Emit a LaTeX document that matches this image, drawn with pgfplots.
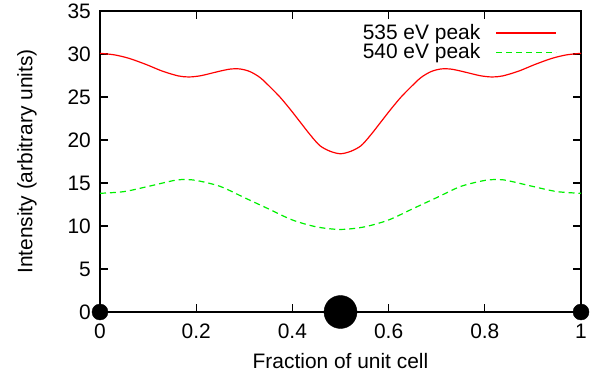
\documentclass[border=0pt]{standalone}
\usepackage{fontspec}
\setmainfont{Liberation Sans}
\usepackage{pgfplots}
\pgfplotsset{compat=1.18}
\definecolor{gred}{RGB}{255,0,0}
\definecolor{ggreen}{RGB}{0,240,0}
\newcommand{\bigf}{\fontsize{21}{24}\selectfont}
\begin{document}
\bigf
\begin{tikzpicture}
\useasboundingbox (0,0) rectangle (593bp,381bp);
\begin{axis}[
  at={(100bp,69bp)}, anchor=south west,
  scale only axis, width=481bp, height=301bp,
  xmin=0, xmax=1, ymin=0, ymax=35,
  xtick={0,0.2,0.4,0.6,0.8,1}, ytick={0,5,10,15,20,25,30,35},
  tick align=inside, major tick length=8bp,
  axis line style={line width=1.3bp},
  every tick/.style={line width=1.1bp, black},
  /pgf/number format/assume math mode=true,
  ticklabel style={font=\bigf},
  xticklabel style={yshift=-5bp},
  yticklabel style={xshift=-2bp},
  label style={font=\bigf},
  xlabel={Fraction of unit cell},
  ylabel={Intensity (arbitrary units)},
  xlabel style={at={(axis description cs:0.5,-0.163)}, anchor=center},
  ylabel style={at={(axis description cs:-0.152,0.5)}, anchor=center},
  clip=false,
  legend cell align=right,
  legend plot pos=right,
  legend style={draw=none, fill=none, font=\bigf, nodes={font=\bigf},
    at={(axis description cs:0.951,0.9645)}, anchor=north east,
    inner sep=0pt, row sep=-3bp},
]
\addlegendimage{legend image code/.code={\path (0bp,0bp); \draw[gred, line width=1.5bp] (14bp,0bp) -- (74bp,0bp);}}
\addlegendentry{535 eV peak}
\addlegendimage{legend image code/.code={\path (0bp,0bp); \draw[ggreen, line width=1.4bp, dash pattern=on 6bp off 4bp] (14bp,0bp) -- (74bp,0bp);}}
\addlegendentry{540 eV peak}
\addplot[gred, line width=1.2bp, smooth, forget plot] coordinates {
(0,30.08) (0.03,29.9) (0.06,29.5) (0.095,28.8) (0.13,28.0) (0.163,27.45)
(0.185,27.33) (0.21,27.48) (0.245,27.95) (0.27,28.24) (0.291,28.26) (0.312,27.95)
(0.333,27.25) (0.353,26.2) (0.374,25.0) (0.395,23.6) (0.416,22.1) (0.437,20.6)
(0.457,19.35) (0.478,18.7) (0.5,18.4)
(0.522,18.7) (0.543,19.35) (0.563,20.6) (0.584,22.1) (0.605,23.6) (0.626,25.0)
(0.647,26.2) (0.667,27.25) (0.688,27.95) (0.709,28.26) (0.73,28.24) (0.755,27.95)
(0.79,27.48) (0.815,27.33) (0.837,27.45) (0.87,28.0) (0.905,28.8) (0.94,29.5)
(0.97,29.9) (1,30.08)
};
\addplot[ggreen, line width=1.2bp, smooth, dash pattern=on 6bp off 4bp, forget plot] coordinates {
(0,13.8) (0.05,14.0) (0.1,14.6) (0.15,15.25) (0.17,15.4) (0.2,15.3)
(0.25,14.6) (0.3,13.3) (0.35,12.0) (0.4,10.7) (0.45,9.9) (0.5,9.6)
(0.55,9.9) (0.6,10.7) (0.65,12.0) (0.7,13.3) (0.75,14.6) (0.8,15.3)
(0.83,15.4) (0.85,15.25) (0.9,14.6) (0.95,14.0) (1,13.8)
};
\addplot[only marks, mark=*, mark size=8bp, black, forget plot] coordinates {(0,0) (1,0)};
\addplot[only marks, mark=*, mark size=16.5bp, black, forget plot] coordinates {(0.5,0)};
\end{axis}
\end{tikzpicture}
\end{document}
